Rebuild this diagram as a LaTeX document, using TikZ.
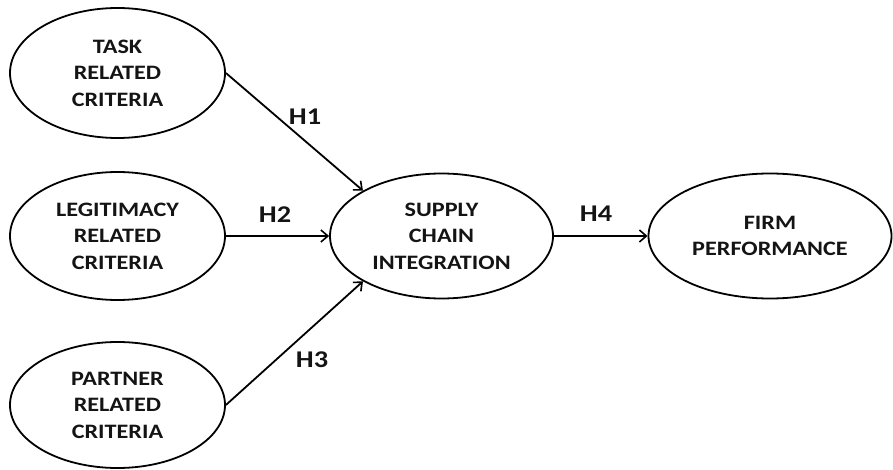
\documentclass[tikz,border=0pt]{standalone}
\usepackage{fontspec}
\setmainfont{Carlito}[FakeStretch=1.18]
\usetikzlibrary{shapes.geometric,arrows.meta}
\begin{document}
\begin{tikzpicture}[x=1pt,y=-1pt,
  ell/.style={ellipse,draw=black,line width=1.8pt,inner sep=0pt,align=center,
    text=black!92,font=\fontsize{20.5}{26.5}\selectfont\bfseries},
  arr/.style={line width=1.8pt,draw=black,-{Straight Barb[length=7pt,width=12pt,line width=1.6pt]}},
  hlab/.style={text=black!92,font=\fontsize{24}{26}\selectfont\bfseries}]
\useasboundingbox (0,0) rectangle (893,470);
\node[ell,minimum width=215,minimum height=130] (task) at (117.5,73) {TASK\\RELATED\\CRITERIA};
\node[ell,minimum width=215,minimum height=128] (legit) at (117.5,236) {LEGITIMACY\\RELATED\\CRITERIA};
\node[ell,minimum width=215,minimum height=126] (partner) at (117.5,405) {PARTNER\\RELATED\\CRITERIA};
\node[ell,minimum width=223,minimum height=125] (sci) at (441.5,236) {SUPPLY\\CHAIN\\INTEGRATION};
\node[ell,minimum width=243,minimum height=125] (firm) at (770,236) {FIRM\\PERFORMANCE};
\draw[arr] (task.east) -- (sci.150);
\draw[arr] (legit.east) -- (sci.west);
\draw[arr] (partner.east) -- (sci.210);
\draw[arr] (sci.east) -- (firm.west);
\node[hlab] (h1) at (305,117) {H1};
\node[hlab] (h2) at (275,215) {H2};
\node[hlab] (h3) at (312,360) {H3};
\node[hlab] (h4) at (596,214) {H4};
\end{tikzpicture}
\end{document}
